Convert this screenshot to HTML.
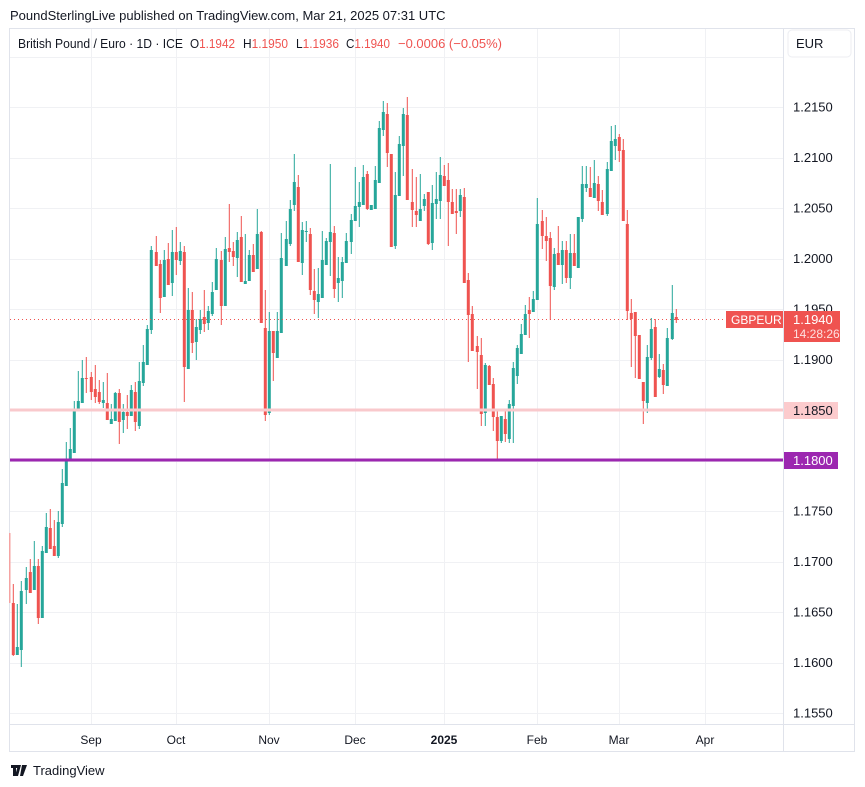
<!DOCTYPE html>
<html><head><meta charset="utf-8">
<style>
html,body{margin:0;padding:0;background:#fff;}
body{width:865px;height:787px;position:relative;overflow:hidden;font-family:"Liberation Sans",sans-serif;}
</style></head>
<body>
<svg id="s" width="865" height="787" xmlns="http://www.w3.org/2000/svg" style="position:absolute;left:0;top:0" font-family="Liberation Sans, sans-serif">
<text x="10" y="20" font-size="13" fill="#131722">PoundSterlingLive published on TradingView.com, Mar 21, 2025 07:31 UTC</text>
<rect x="9.5" y="28.5" width="845" height="723" fill="none" stroke="#e0e3eb"/>
<g id="grid" stroke="#f0f1f4" stroke-width="1"></g>
<line x1="783.5" y1="28" x2="783.5" y2="752" stroke="#e0e3eb"/>
<line x1="9" y1="724.5" x2="855" y2="724.5" stroke="#e0e3eb"/>
<g id="cd"></g>
<line x1="10" y1="410" x2="783" y2="410" stroke="#f9c9cc" stroke-width="3"/>
<line x1="10" y1="460" x2="783" y2="460" stroke="#9c27b0" stroke-width="3"/>
<line x1="10" y1="319.5" x2="727" y2="319.5" stroke="#ef5350" stroke-width="1" stroke-dasharray="1,3"/>
<g font-size="13" fill="#131722">
<text x="18" y="48" textLength="165" lengthAdjust="spacingAndGlyphs">British Pound / Euro · 1D · ICE</text>
<text x="190" y="48" textLength="45" lengthAdjust="spacingAndGlyphs">O<tspan fill="#ef5350">1.1942</tspan></text>
<text x="243" y="48" textLength="45" lengthAdjust="spacingAndGlyphs">H<tspan fill="#ef5350">1.1950</tspan></text>
<text x="296" y="48" textLength="43" lengthAdjust="spacingAndGlyphs">L<tspan fill="#ef5350">1.1936</tspan></text>
<text x="346" y="48" textLength="44" lengthAdjust="spacingAndGlyphs">C<tspan fill="#ef5350">1.1940</tspan></text>
<text x="398" y="48" fill="#ef5350" textLength="104" lengthAdjust="spacingAndGlyphs">−0.0006 (−0.05%)</text>
</g>
<rect x="788" y="30" width="63" height="27" rx="4" fill="#fff" stroke="#eceef2"/>
<text x="796" y="48" font-size="13" fill="#131722">EUR</text>
<g id="pl" font-size="13" fill="#131722"></g>
<rect x="726" y="311" width="57" height="17" fill="#ef5350"/>
<text x="731" y="324" font-size="12" fill="#fff">GBPEUR</text>
<rect x="784" y="311" width="56" height="31" fill="#ef5350"/>
<text x="793" y="324" font-size="13" fill="#fff">1.1940</text>
<text x="793" y="338" font-size="12" fill="#fde0e0">14:28:26</text>
<rect x="784" y="402" width="54" height="17" fill="#fccbcd"/>
<text x="793" y="415" font-size="13" fill="#131722">1.1850</text>
<rect x="784" y="452" width="54" height="17" fill="#9c27b0"/>
<text x="793" y="465" font-size="13" fill="#fff">1.1800</text>
<g font-size="12" fill="#131722" text-anchor="middle">
<text x="91" y="744">Sep</text><text x="176" y="744">Oct</text><text x="269" y="744">Nov</text><text x="355" y="744">Dec</text><text x="444" y="744" font-weight="bold">2025</text><text x="537" y="744">Feb</text><text x="619" y="744">Mar</text><text x="705" y="744">Apr</text>
</g>
<g fill="#131722"><path d="M11 765h7v3h-2v8h-3v-8h-2z M18 765h3l-3 11h-3z"/><path d="M22 765h5l-4 11h-3z" /></g>
<text x="33" y="775" font-size="13" fill="#131722">TradingView</text>
</svg>
<script>
var s=document.getElementById('s'),NS='http://www.w3.org/2000/svg';
function el(p,t,a){var e=document.createElementNS(NS,t);for(var k in a)e.setAttribute(k,a[k]);document.getElementById(p).appendChild(e);return e;}
for(var k=-1;k<13;k++){var y=107+50.5*k;if(y<29||y>724)continue;y=Math.round(y)+0.5;el('grid','line',{x1:10,y1:y,x2:783,y2:y});}
[91.5,176.5,269.5,355.5,444.5,537.5,619.5,705.5].forEach(function(x){el('grid','line',{x1:x,y1:29,x2:x,y2:724});});
var pr=['1.2150','1.2100','1.2050','1.2000','1.1950','1.1900',null,null,'1.1750','1.1700','1.1650','1.1600','1.1550'];
pr.forEach(function(p,i){if(!p)return;var t=el('pl','text',{x:793,y:107+50.5*i+4.5});t.textContent=p;});
var C=[
[13.3,603,655,584,656,0],[17.3,647,655,604,655,1],[21.3,591,650,581,667,1],[26.3,578,590,567,604,1],[30.3,572,593,559,593,0],[34.3,566,590,541,590,1],[38.3,566,618,559,624,0],[42.3,551,618,546,618,1],[46.3,527,553,513,553,1],[50.3,528,549,509,549,0],[54.3,546,556,520,556,0],[58.3,522,556,511,558,1],[62.3,483,524,469,527,1],[66.3,459,486,442,486,1],[70.3,449,461,428,461,1],[74.3,409,453,401,453,1],[78.3,401,409,371,409,1],[82.3,378,403,360,403,1],[86.3,378,379,357,393,0],[91.3,377,392,372,400,0],[95.3,389,397,365,403,0],[99.3,392,402,380,404,0],[103.3,400,403,382,408,1],[107.3,403,420,373,420,0],[111.3,419,424,404,424,1],[115.3,393,421,392,421,1],[119.3,393,422,389,444,0],[123.3,412,420,404,433,1],[127.3,412,416,395,429,0],[131.3,390,416,385,416,1],[135.3,392,422,382,431,0],[139.3,381,426,362,429,1],[143.3,362,383,345,386,1],[147.3,329,365,325,365,1],[151.3,250,330,246,334,1],[156.3,252,266,236,266,0],[160.3,264,298,260,313,0],[164.3,260,297,250,297,1],[168.3,259,285,243,285,0],[172.3,252,283,230,296,1],[176.3,252,260,227,275,0],[180.3,251,261,242,265,1],[184.3,252,367,246,402,0],[188.3,310,369,288,369,1],[192.3,310,343,292,353,0],[196.3,327,342,319,360,1],[200.3,319,330,310,334,1],[204.3,317,324,290,332,0],[208.3,311,323,306,330,1],[212.3,292,314,282,316,1],[216.3,259,290,248,290,1],[221.3,260,306,251,325,0],[225.3,249,306,237,306,1],[229.3,248,252,204,262,0],[233.3,251,257,242,266,0],[237.3,240,258,232,277,1],[241.3,237,282,216,282,0],[245.3,281,284,234,284,1],[249.3,255,281,250,281,1],[253.3,255,272,244,272,0],[257.3,234,269,209,269,1],[261.3,232,323,231,323,0],[265.3,328,415,290,421,0],[269.3,331,413,312,415,1],[273.3,331,353,331,381,0],[277.3,331,358,312,358,1],[281.3,258,333,233,333,1],[286.3,239,266,221,266,1],[290.3,209,244,200,246,1],[294.3,182,205,154,211,1],[298.3,187,262,175,262,0],[302.3,230,263,222,275,1],[306.3,231,232,221,242,1],[310.3,234,290,228,295,0],[314.3,291,300,269,314,0],[318.3,294,302,268,318,1],[322.3,260,298,231,298,1],[326.3,241,265,238,265,1],[330.3,232,242,164,276,1],[334.3,233,289,226,298,0],[338.3,278,283,257,302,1],[342.3,262,281,257,298,1],[346.3,241,263,233,263,1],[351.3,220,242,214,254,1],[355.3,206,221,167,221,1],[359.3,202,207,182,227,1],[363.3,177,205,165,205,1],[367.3,174,209,171,210,0],[371.3,205,210,205,210,1],[375.3,180,209,166,209,1],[379.3,128,183,121,183,1],[383.3,112,130,101,136,1],[387.3,114,153,103,167,0],[391.3,154,247,154,247,0],[395.3,195,246,172,249,1],[399.3,144,196,136,196,1],[403.3,114,146,108,176,1],[407.3,115,200,97,200,0],[412.3,202,210,169,227,0],[416.3,211,215,177,227,0],[420.3,209,221,174,221,1],[424.3,199,206,194,211,1],[428.3,192,244,192,245,0],[432.3,203,243,185,250,1],[436.3,199,204,172,219,1],[440.3,175,201,157,219,1],[444.3,176,186,165,186,0],[448.3,180,202,163,246,0],[452.3,202,214,189,214,0],[456.3,211,213,189,234,0],[460.3,195,211,189,217,1],[464.3,197,283,188,283,0],[468.3,280,315,273,362,0],[472.3,314,351,306,351,0],[477.3,346,352,336,389,0],[481.3,355,414,338,426,0],[485.3,365,413,363,426,1],[489.3,366,385,365,385,0],[493.3,384,417,378,431,0],[497.3,417,441,409,460,0],[501.3,416,441,416,443,1],[505.3,419,434,409,442,0],[509.3,404,439,400,443,1],[513.3,368,406,362,443,1],[517.3,348,376,345,384,1],[521.3,334,354,324,354,1],[525.3,314,335,305,335,1],[529.3,310,314,297,338,0],[533.3,299,312,291,312,1],[537.3,224,300,198,300,1],[542.3,221,236,210,249,0],[546.3,236,241,217,261,0],[550.3,238,286,232,320,0],[554.3,254,287,248,290,1],[558.3,253,265,226,265,0],[562.3,250,265,241,284,1],[566.3,250,278,241,283,0],[570.3,253,278,234,289,1],[574.3,253,266,234,266,0],[578.3,217,268,217,268,1],[582.3,184,219,166,222,1],[586.3,184,188,166,192,1],[590.3,188,197,167,197,0],[594.3,183,198,160,198,1],[598.3,184,201,176,211,0],[602.3,202,215,190,215,0],[607.3,169,214,162,216,1],[611.3,141,171,126,171,1],[615.3,139,146,125,160,1],[619.3,137,151,134,162,0],[623.3,150,221,139,221,0],[627.3,224,311,210,320,0],[631.3,313,319,299,367,0],[635.3,312,336,312,378,0],[639.3,335,379,335,379,0],[643.3,382,401,382,424,0],[647.3,357,403,345,413,1],[651.3,329,358,318,360,1],[655.3,327,397,319,397,0],[659.3,369,377,354,378,1],[663.3,370,385,364,394,0],[667.3,338,386,328,386,1],[672.3,313,339,285,340,1],[676.3,317,320,309,323,0]
];
el('cd','rect',{x:9,y:533,width:1.5,height:70,fill:'#f5a3a2'});
C.forEach(function(c){var col=c[5]?'#26a69a':'#ef5350';
el('cd','rect',{x:c[0]-0.5,y:c[3],width:1,height:Math.max(1,c[4]-c[3]),fill:col});
el('cd','rect',{x:c[0]-1.5,y:c[1],width:3,height:Math.max(1,c[2]-c[1]),fill:col});});
</script>
</body></html>
